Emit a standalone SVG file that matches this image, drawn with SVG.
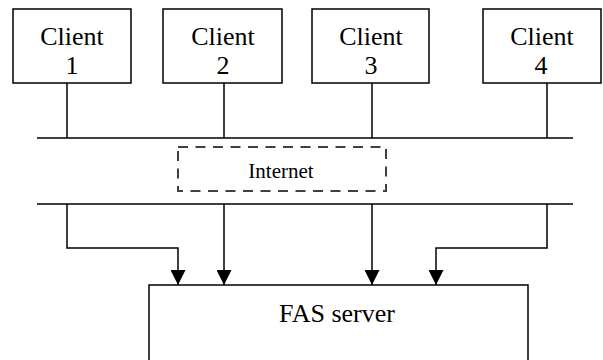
<svg xmlns="http://www.w3.org/2000/svg" width="603" height="360" viewBox="0 0 603 360">
  <defs>
    <style>
      .box { fill: #fff; stroke: #000; stroke-width: 1.5; }
      .label { font-family: "Liberation Serif", "Times New Roman", serif; font-size: 26px; fill: #000; text-anchor: middle; }
      .small { font-family: "Liberation Serif", "Times New Roman", serif; font-size: 21px; fill: #000; text-anchor: middle; }
      .wire { fill: none; stroke: #000; stroke-width: 1.5; }
      .dash { fill: none; stroke: #404040; stroke-width: 2; stroke-dasharray: 10 7.5; }
    </style>
    <marker id="arrow" viewBox="0 0 15 15" refX="15" refY="7.5" markerWidth="15" markerHeight="15" markerUnits="userSpaceOnUse" orient="auto">
      <path d="M0,0 L15,7.5 L0,15 Z" fill="#000"/>
    </marker>
  </defs>
  <rect width="603" height="360" fill="#fff"/>

  <g id="connectors">
    <!-- client drops to the upper bus -->
    <line class="wire" x1="67" y1="83" x2="67" y2="138"/>
    <line class="wire" x1="224" y1="83" x2="224" y2="138"/>
    <line class="wire" x1="372" y1="83" x2="372" y2="138"/>
    <line class="wire" x1="547" y1="83" x2="547" y2="138"/>
    <!-- buses -->
    <line class="wire" x1="37" y1="138" x2="573" y2="138"/>
    <line class="wire" x1="37" y1="204" x2="573" y2="204"/>
    <!-- feeds into the server -->
    <polyline class="wire" points="67,204 67,248 178,248 178,285" marker-end="url(#arrow)"/>
    <polyline class="wire" points="224,204 224,285" marker-end="url(#arrow)"/>
    <polyline class="wire" points="372,204 372,285" marker-end="url(#arrow)"/>
    <polyline class="wire" points="547,204 547,248 436,248 436,285" marker-end="url(#arrow)"/>
  </g>

  <g id="client1">
    <rect class="box" x="13" y="9" width="118" height="74"/>
    <text class="label" x="72" y="45">Client</text>
    <text class="label" x="72" y="74">1</text>
  </g>
  <g id="client2">
    <rect class="box" x="163" y="9" width="119" height="74"/>
    <text class="label" x="223" y="45">Client</text>
    <text class="label" x="223" y="74">2</text>
  </g>
  <g id="client3">
    <rect class="box" x="312" y="9" width="117" height="74"/>
    <text class="label" x="371" y="45">Client</text>
    <text class="label" x="371" y="74">3</text>
  </g>
  <g id="client4">
    <rect class="box" x="483" y="9" width="118" height="74"/>
    <text class="label" x="542" y="45">Client</text>
    <text class="label" x="541" y="74">4</text>
  </g>

  <g id="internet">
    <rect class="dash" x="178" y="147" width="208" height="44"/>
    <text class="small" x="281" y="178">Internet</text>
  </g>

  <g id="server">
    <rect class="box" x="149" y="285" width="379" height="90"/>
    <text class="label" x="337" y="322">FAS server</text>
  </g>
</svg>
